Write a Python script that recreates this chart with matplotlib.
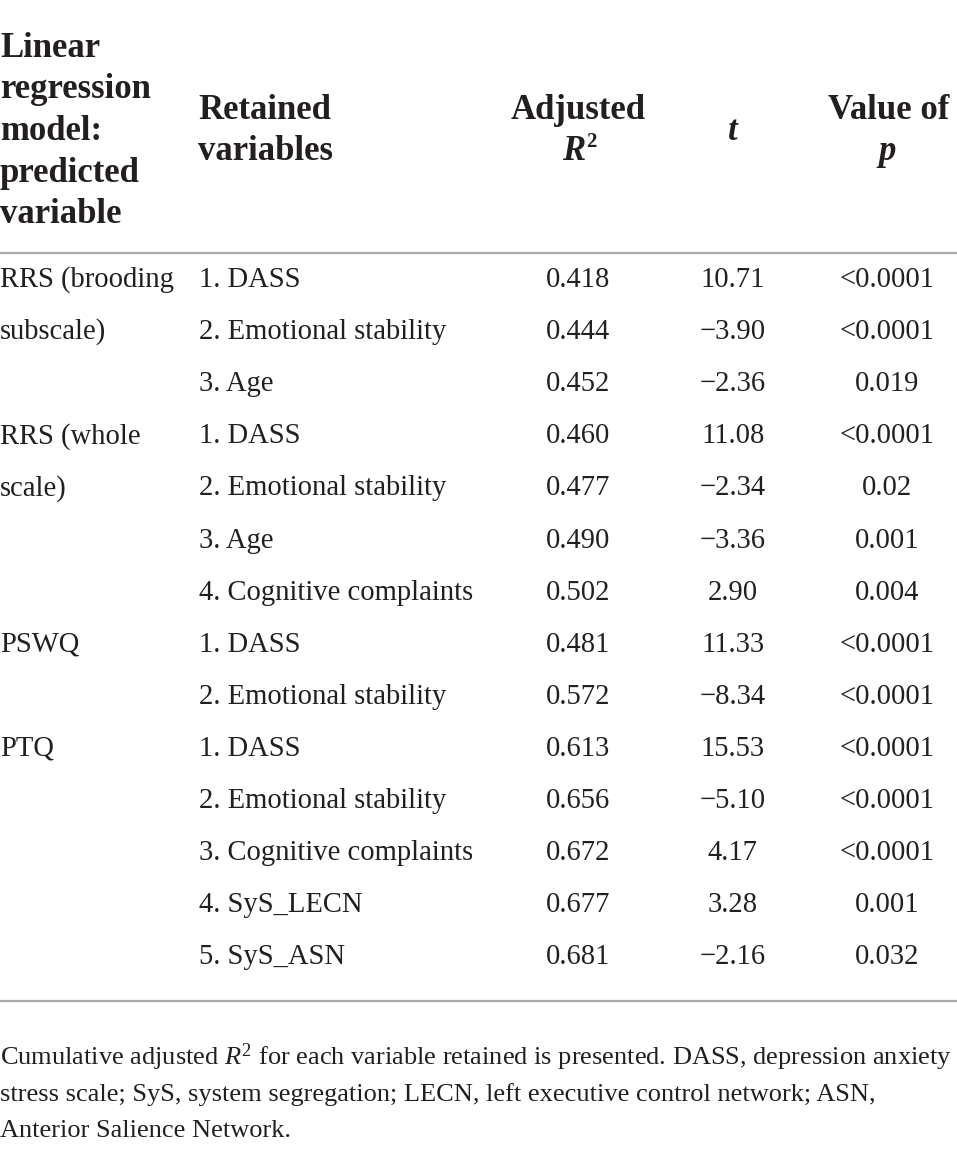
import matplotlib
matplotlib.use("Agg")
import matplotlib.pyplot as plt
from matplotlib.lines import Line2D

# ---- data ----
header_col1 = ["Linear", "regression", "model:", "predicted", "variable"]
header_col2 = ["Retained", "variables"]
model_labels = ["RRS (brooding", "subscale)", "", "RRS (whole", "scale)", "", "",
                "PSWQ", "", "PTQ", "", "", "", ""]
retained_vars = ["1. DASS", "2. Emotional stability", "3. Age",
                 "1. DASS", "2. Emotional stability", "3. Age", "4. Cognitive complaints",
                 "1. DASS", "2. Emotional stability",
                 "1. DASS", "2. Emotional stability", "3. Cognitive complaints",
                 "4. SyS_LECN", "5. SyS_ASN"]
adj_r2 = ["0.418", "0.444", "0.452", "0.460", "0.477", "0.490", "0.502",
          "0.481", "0.572", "0.613", "0.656", "0.672", "0.677", "0.681"]
t_vals = ["10.71", "\u22123.90", "\u22122.36", "11.08", "\u22122.34", "\u22123.36", "2.90",
          "11.33", "\u22128.34", "15.53", "\u22125.10", "4.17", "3.28", "\u22122.16"]
p_vals = ["<0.0001", "<0.0001", "0.019", "<0.0001", "0.02", "0.001", "0.004",
          "<0.0001", "<0.0001", "<0.0001", "<0.0001", "<0.0001", "0.001", "0.032"]
footnote_lines = [
    r"Cumulative adjusted $R^2$ for each variable retained is presented. DASS, depression anxiety",
    "stress scale; SyS, system segregation; LECN, left executive control network; ASN,",
    "Anterior Salience Network.",
]

W, H = 957, 1157
plt.rcParams['mathtext.fontset'] = 'custom'
plt.rcParams['mathtext.rm'] = 'Liberation Serif'
plt.rcParams['mathtext.it'] = 'Liberation Serif:italic'
fig = plt.figure(figsize=(W / 100, H / 100), dpi=100)
fig.patch.set_facecolor('white')

FONT = 'Liberation Serif'
TXT = '#231f20'
HS = 25   # header size
BS = 20.6 # body size
FS = 19   # footnote size


def px(x, y):
    return x / W, 1 - y / H


def put(x, y, s, size=BS, ha='left', weight='normal', style='normal'):
    fx, fy = px(x, y)
    return fig.text(fx, fy, s, fontsize=size, ha=ha, va='baseline', family=FONT,
                    weight=weight, style=style, color=TXT)


# header
for i, s in enumerate(header_col1):
    put(0, 57 + i * 41.5, s, HS, weight='bold')
for i, s in enumerate(header_col2):
    put(198, 119 + i * 41, s, HS, weight='bold')
put(578, 119, "Adjusted", HS, ha='center', weight='bold')
put(574, 160, "R", HS, ha='center', weight='bold', style='italic')
put(586, 147, "2", HS * 0.6, ha='left', weight='bold')
put(733, 140, "t", HS, ha='center', weight='bold', style='italic')
put(889, 119, "Value of", HS, ha='center', weight='bold')
put(887, 160, "p", HS, ha='center', weight='bold', style='italic')

rule_c = '#a7a9ac'
fig.add_artist(Line2D([0, 1], [1 - 253 / H] * 2, color=rule_c, lw=1.6, transform=fig.transFigure))
fig.add_artist(Line2D([0, 1], [1 - 1001 / H] * 2, color=rule_c, lw=1.6, transform=fig.transFigure))

# body rows
y0, dy = 287, 52.1
for i in range(len(retained_vars)):
    y = y0 + i * dy
    if model_labels[i]:
        put(0, y, model_labels[i])
    put(199, y, retained_vars[i])
    put(578, y, adj_r2[i], ha='center')
    put(733, y, t_vals[i], ha='center')
    put(887, y, p_vals[i], ha='center')

# footnote
for i, s in enumerate(footnote_lines):
    put(0, 1065 + i * 36, s, FS)

fig.savefig('out.png', dpi=100, facecolor='white')
